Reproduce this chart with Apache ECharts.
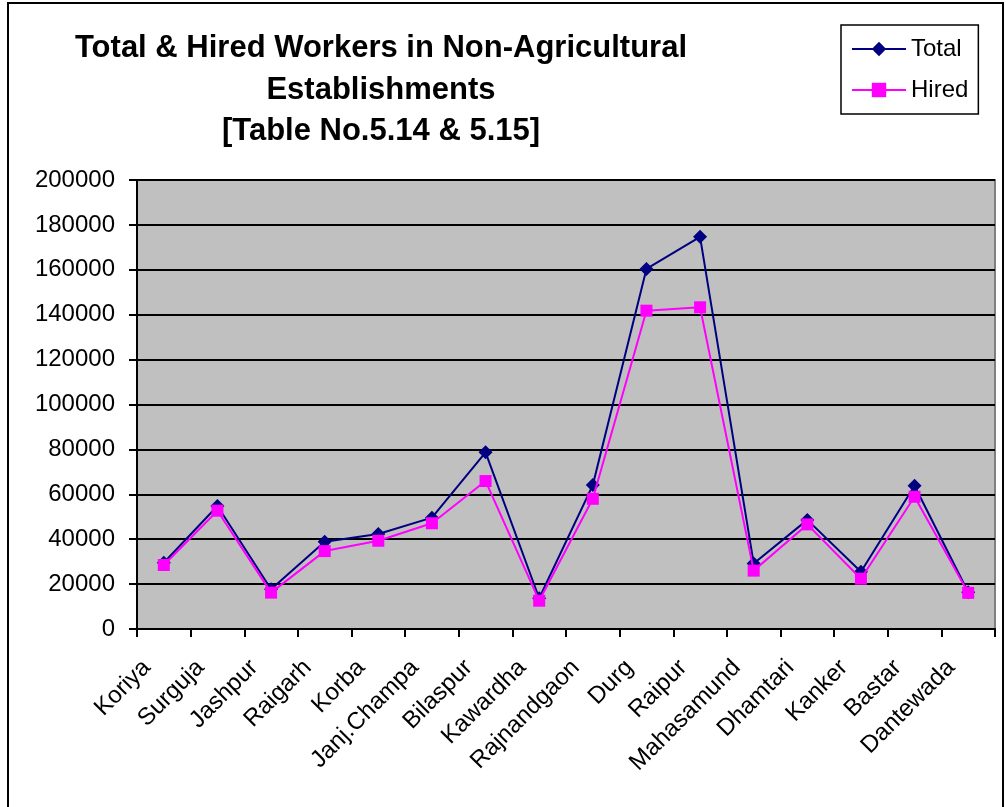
<!DOCTYPE html>
<html>
<head>
<meta charset="utf-8">
<script src="https://cdn.jsdelivr.net/npm/echarts@6/dist/echarts.min.js"></script>
<style>
  html, body { margin: 0; padding: 0; background: #fff; }
  #chart { width: 1006px; height: 807px; }
</style>
</head>
<body>
<div id="chart"></div>
<script>
var districts = ['Koriya', 'Surguja', 'Jashpur', 'Raigarh', 'Korba', 'Janj.Champa', 'Bilaspur', 'Kawardha',
    'Rajnandgaon', 'Durg', 'Raipur', 'Mahasamund', 'Dhamtari', 'Kanker', 'Bastar', 'Dantewada'];
var totalWorkers = [29500, 54800, 17700, 38900, 42300, 49600, 78700, 13700,
    64100, 160400, 174700, 29200, 48600, 25500, 63800, 16400];
var hiredWorkers = [28500, 52700, 16200, 34700, 39300, 47100, 65900, 12600,
    58000, 141800, 143300, 26000, 46600, 22400, 58900, 16100];

var font = "'Liberation Sans', Arial, sans-serif";

var option = {
    backgroundColor: '#fff',
    textStyle: { fontFamily: font },
    title: {
        text: 'Total & Hired Workers in Non-Agricultural\nEstablishments\n[Table No.5.14 & 5.15]',
        left: 376,
        top: 23,
        textAlign: 'center',
        textStyle: {
            fontFamily: font,
            fontSize: 31,
            fontWeight: 'bold',
            color: '#000',
            lineHeight: 41.5,
            align: 'center'
        }
    },
    legend: {
        orient: 'vertical',
        left: 841,
        top: 25,
        padding: [12, 10, 12, 10],
        itemGap: 17,
        itemWidth: 54,
        itemHeight: 18,
        borderColor: '#000',
        borderWidth: 1.5,
        textStyle: { fontFamily: font, fontSize: 24, color: '#000' },
        data: ['Total', 'Hired']
    },
    grid: {
        left: 137,
        right: 11,
        top: 180,
        bottom: 178,
        show: true,
        backgroundColor: '#C0C0C0',
        borderColor: '#808080',
        borderWidth: 2
    },
    xAxis: {
        type: 'category',
        data: districts,
        boundaryGap: true,
        axisLine: { lineStyle: { color: '#000', width: 2 } },
        axisTick: { show: true, length: 8, lineStyle: { color: '#000', width: 2 } },
        axisLabel: {
            rotate: 45,
            interval: 0,
            margin: 18,
            padding: [0, 24, 0, 0],
            fontFamily: font,
            fontSize: 24,
            color: '#000'
        }
    },
    yAxis: {
        type: 'value',
        min: 0,
        max: 200000,
        interval: 20000,
        axisLine: { show: true, lineStyle: { color: '#000', width: 2 } },
        axisTick: { show: true, length: 8, lineStyle: { color: '#000', width: 2 } },
        axisLabel: {
            margin: 22,
            fontFamily: font,
            fontSize: 24,
            color: '#000',
            formatter: function (v) { return String(v); }
        },
        splitLine: { lineStyle: { color: '#000', width: 2 } }
    },
    graphic: [{
        type: 'rect',
        shape: { x: 8, y: 3, width: 995, height: 830 },
        style: { fill: 'none', stroke: '#000', lineWidth: 2 },
        silent: true,
        z: 100
    }],
    series: [
        {
            name: 'Total',
            type: 'line',
            data: totalWorkers,
            symbol: 'diamond',
            symbolSize: 14,
            color: '#000080',
            lineStyle: { color: '#000080', width: 2 },
            itemStyle: { color: '#000080' },
            animation: false,
            z: 2
        },
        {
            name: 'Hired',
            type: 'line',
            data: hiredWorkers,
            symbol: 'rect',
            symbolSize: 12,
            color: '#FF00FF',
            lineStyle: { color: '#FF00FF', width: 2 },
            itemStyle: { color: '#FF00FF' },
            animation: false,
            z: 3
        }
    ]
};

var myChart = echarts.init(document.getElementById('chart'));
myChart.setOption(option);
</script>
</body>
</html>
